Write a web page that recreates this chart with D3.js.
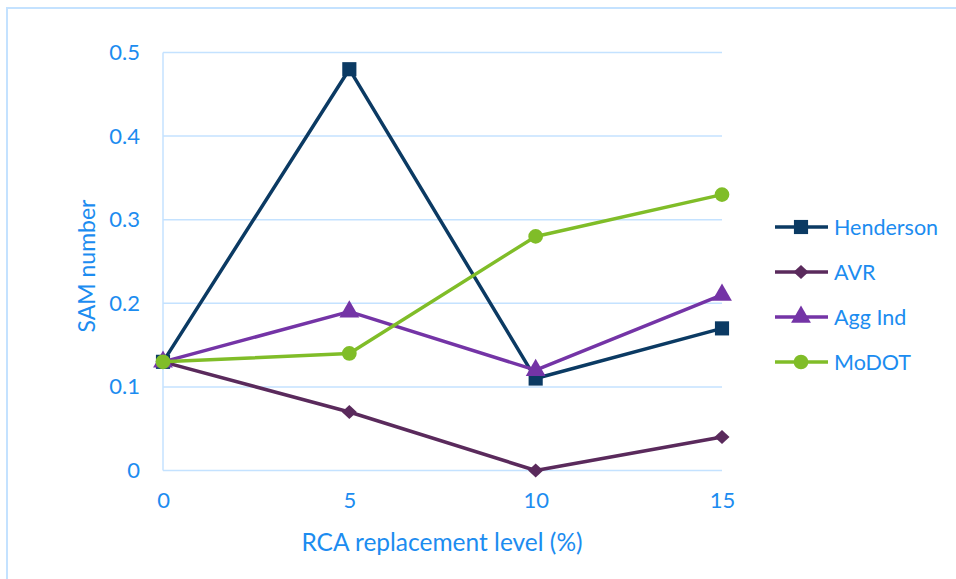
<!DOCTYPE html>
<html>
<head>
<meta charset="utf-8">
<script src="https://cdn.jsdelivr.net/npm/d3@7"></script>
<style>
  html, body { margin: 0; padding: 0; background: #fff; }
  svg { display: block; font-family: Lato, "Open Sans", sans-serif; }
</style>
</head>
<body>
<svg id="chart" width="956" height="579"></svg>
<script>
// RCA replacement levels (%) on the x axis
const levels = [0, 5, 10, 15];
// SAM number per aggregate source
const henderson = [0.13, 0.48, 0.11, 0.17];
const avr       = [0.13, 0.07, 0.00, 0.04];
const aggInd    = [0.13, 0.19, 0.12, 0.21];
const modot     = [0.13, 0.14, 0.28, 0.33];
const yTicks = [0, 0.1, 0.2, 0.3, 0.4, 0.5];
const xTicks = [0, 5, 10, 15];

const series = [
  { name: "Henderson", values: henderson, color: "#0B3A63", shape: "square" },
  { name: "AVR",       values: avr,       color: "#5A2A5C", shape: "diamond" },
  { name: "Agg Ind",   values: aggInd,    color: "#7434A6", shape: "triangle" },
  { name: "MoDOT",     values: modot,     color: "#80BD28", shape: "circle" }
];

const textColor = "#1C8CF0";
const gridColor = "#C4E2FF";

const svg = d3.select("#chart");

// outer frame
svg.append("rect")
  .attr("x", 7).attr("y", 8)
  .attr("width", 960).attr("height", 600)
  .attr("fill", "none")
  .attr("stroke", gridColor)
  .attr("stroke-width", 2);

const x = d3.scaleLinear().domain([0, 15]).range([163, 722]);
const y = d3.scaleLinear().domain([0, 0.5]).range([470.5, 52.5]);

// horizontal gridlines
svg.append("g")
  .selectAll("line")
  .data(yTicks)
  .join("line")
  .attr("x1", x(0)).attr("x2", x(15))
  .attr("y1", d => y(d)).attr("y2", d => y(d))
  .attr("stroke", gridColor)
  .attr("stroke-width", 1.5);

// vertical axis line
svg.append("line")
  .attr("x1", x(0)).attr("x2", x(0))
  .attr("y1", y(0)).attr("y2", y(0.5))
  .attr("stroke", gridColor)
  .attr("stroke-width", 1.5);

// y tick labels
const yAxis = d3.axisLeft(y).tickValues(yTicks).tickSize(0).tickPadding(0)
  .tickFormat(d => d === 0 ? "0" : d3.format(".1f")(d));
const gy = svg.append("g").attr("transform", `translate(${x(0) - 23},0)`).call(yAxis);
gy.select(".domain").remove();
gy.selectAll("text")
  .attr("fill", textColor)
  .attr("font-size", 22)
  .attr("font-family", "Lato, 'Open Sans', sans-serif");

// x tick labels
const xAxis = d3.axisBottom(x).tickValues(xTicks).tickSize(0).tickPadding(0);
const gx = svg.append("g").attr("transform", `translate(0,${y(0) + 22})`).call(xAxis);
gx.select(".domain").remove();
gx.selectAll("text")
  .attr("fill", textColor)
  .attr("font-size", 22)
  .attr("font-family", "Lato, 'Open Sans', sans-serif");

// axis titles
svg.append("text")
  .attr("x", 442).attr("y", 551)
  .attr("text-anchor", "middle")
  .attr("fill", textColor)
  .attr("font-size", 24.5)
  .text("RCA replacement level (%)");

svg.append("text")
  .attr("transform", "translate(95,266) rotate(-90)")
  .attr("text-anchor", "middle")
  .attr("fill", textColor)
  .attr("font-size", 23)
  .text("SAM number");

// marker shapes
const diamondShape = {
  draw(ctx, size) {
    const w = Math.sqrt(size) * 0.56, h = w * 0.93;
    ctx.moveTo(0, -h); ctx.lineTo(w, 0); ctx.lineTo(0, h); ctx.lineTo(-w, 0); ctx.closePath();
  }
};
const symbolFor = {
  square:   d3.symbol().type(d3.symbolSquare).size(200),
  diamond:  d3.symbol().type(diamondShape).size(180),
  triangle: d3.symbol().type(d3.symbolTriangle).size(170),
  circle:   d3.symbol().type(d3.symbolCircle).size(170)
};

const line = d3.line().x((d, i) => x(levels[i])).y(d => y(d));

series.forEach(s => {
  const g = svg.append("g");
  g.append("path")
    .datum(s.values)
    .attr("d", line)
    .attr("fill", "none")
    .attr("stroke", s.color)
    .attr("stroke-width", 3.5)
    .attr("stroke-linejoin", "round");
  g.selectAll("path.mark")
    .data(s.values)
    .join("path")
    .attr("class", "mark")
    .attr("d", symbolFor[s.shape])
    .attr("transform", (d, i) => `translate(${x(levels[i])},${y(d)})`)
    .attr("fill", s.color);
});

// legend
const legend = svg.append("g");
series.forEach((s, i) => {
  const ly = 227 + i * 45;
  legend.append("line")
    .attr("x1", 775).attr("x2", 828)
    .attr("y1", ly).attr("y2", ly)
    .attr("stroke", s.color)
    .attr("stroke-width", 3.5);
  legend.append("path")
    .attr("d", symbolFor[s.shape])
    .attr("transform", `translate(801,${ly})`)
    .attr("fill", s.color);
  legend.append("text")
    .attr("x", 834).attr("y", ly)
    .attr("dy", "0.35em")
    .attr("fill", textColor)
    .attr("font-size", 21.5)
    .text(s.name);
});
</script>
</body>
</html>
